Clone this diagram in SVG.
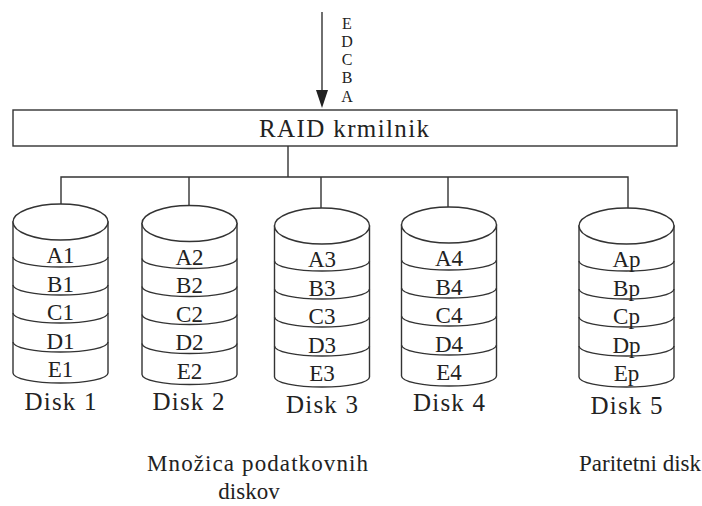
<svg xmlns="http://www.w3.org/2000/svg" xmlns:xlink="http://www.w3.org/1999/xlink" width="702" height="506" viewBox="0 0 702 506">
  <style>
    .ln { fill: none; stroke: #333; stroke-width: 1.4; }
    .bg { fill: #fff; stroke: #333; stroke-width: 1.4; }
    .t { fill: #222; text-anchor: middle; }
  </style>
  <defs>
    <!-- stacked disk drawn around x = 0 -->
    <g id="cyl">
      <path class="bg" d="M-47.5,222 V373 A47.5,10 0 0 0 47.5,373 V222 Z"/>
      <ellipse class="bg" cx="0" cy="222" rx="47.5" ry="18"/>
      <path class="ln" d="M-47.5,257 A47.5,10 0 0 0 47.5,257 M-47.5,285 A47.5,10 0 0 0 47.5,285 M-47.5,313 A47.5,10 0 0 0 47.5,313 M-47.5,342 A47.5,10 0 0 0 47.5,342"/>
    </g>
  </defs>

  <rect width="702" height="506" fill="#fff"/>

  <g font-family="'Liberation Serif', 'Times New Roman', serif">

  <!-- incoming data stream -->
  <g id="input" font-size="16">
    <line class="ln" x1="322" y1="12" x2="322" y2="92"/>
    <polygon points="316,90 328,90 322,108" fill="#222"/>
    <text class="t" x="347" y="29">E</text>
    <text class="t" x="347" y="47">D</text>
    <text class="t" x="347" y="65">C</text>
    <text class="t" x="347" y="83">B</text>
    <text class="t" x="347" y="102">A</text>
  </g>

  <!-- controller -->
  <g id="controller">
    <rect class="bg" x="13" y="110" width="664" height="36"/>
    <text class="t" x="344" y="137" font-size="25" textLength="170" lengthAdjust="spacing">RAID krmilnik</text>
  </g>

  <!-- bus from controller to the disks -->
  <g id="connectors">
    <path class="ln" d="M288,146 V177 M61,204 V177 H628 V208 M189,177 V205.5 M321,177 V208 M448,177 V207"/>
  </g>

  <g id="disk1" transform="translate(60.5,0)" font-size="23">
    <use xlink:href="#cyl"/>
    <text class="t" x="0" y="263">A1</text>
    <text class="t" x="0" y="291.5">B1</text>
    <text class="t" x="0" y="320">C1</text>
    <text class="t" x="0" y="348.5">D1</text>
    <text class="t" x="0" y="377">E1</text>
    <text class="t" x="0" y="410" font-size="25" textLength="72" lengthAdjust="spacing">Disk 1</text>
  </g>

  <g id="disk2" transform="translate(189.5,1.5)" font-size="23">
    <use xlink:href="#cyl"/>
    <text class="t" x="0" y="263">A2</text>
    <text class="t" x="0" y="291.5">B2</text>
    <text class="t" x="0" y="320">C2</text>
    <text class="t" x="0" y="348.5">D2</text>
    <text class="t" x="0" y="377">E2</text>
    <text class="t" x="-1" y="408.5" font-size="25" textLength="72" lengthAdjust="spacing">Disk 2</text>
  </g>

  <g id="disk3" transform="translate(322,4)" font-size="23">
    <use xlink:href="#cyl"/>
    <text class="t" x="0" y="263">A3</text>
    <text class="t" x="0" y="291.5">B3</text>
    <text class="t" x="0" y="320">C3</text>
    <text class="t" x="0" y="348.5">D3</text>
    <text class="t" x="0" y="377">E3</text>
    <text class="t" x="0" y="409" font-size="25" textLength="72" lengthAdjust="spacing">Disk 3</text>
  </g>

  <g id="disk4" transform="translate(449,3)" font-size="23">
    <use xlink:href="#cyl"/>
    <text class="t" x="0" y="263">A4</text>
    <text class="t" x="0" y="291.5">B4</text>
    <text class="t" x="0" y="320">C4</text>
    <text class="t" x="0" y="348.5">D4</text>
    <text class="t" x="0" y="377">E4</text>
    <text class="t" x="0" y="408" font-size="25" textLength="72" lengthAdjust="spacing">Disk 4</text>
  </g>

  <g id="disk5" transform="translate(626.5,4)" font-size="23">
    <use xlink:href="#cyl"/>
    <text class="t" x="0" y="263">Ap</text>
    <text class="t" x="0" y="291.5">Bp</text>
    <text class="t" x="0" y="320">Cp</text>
    <text class="t" x="0" y="348.5">Dp</text>
    <text class="t" x="0" y="377">Ep</text>
    <text class="t" x="0" y="410" font-size="25" textLength="72" lengthAdjust="spacing">Disk 5</text>
  </g>

  <!-- group captions -->
  <g id="captions" font-size="23">
    <text class="t" x="257.5" y="471" textLength="221" lengthAdjust="spacing">Množica podatkovnih</text>
    <text class="t" x="249" y="499">diskov</text>
    <text class="t" x="640" y="471">Paritetni disk</text>
  </g>

  </g>
</svg>
